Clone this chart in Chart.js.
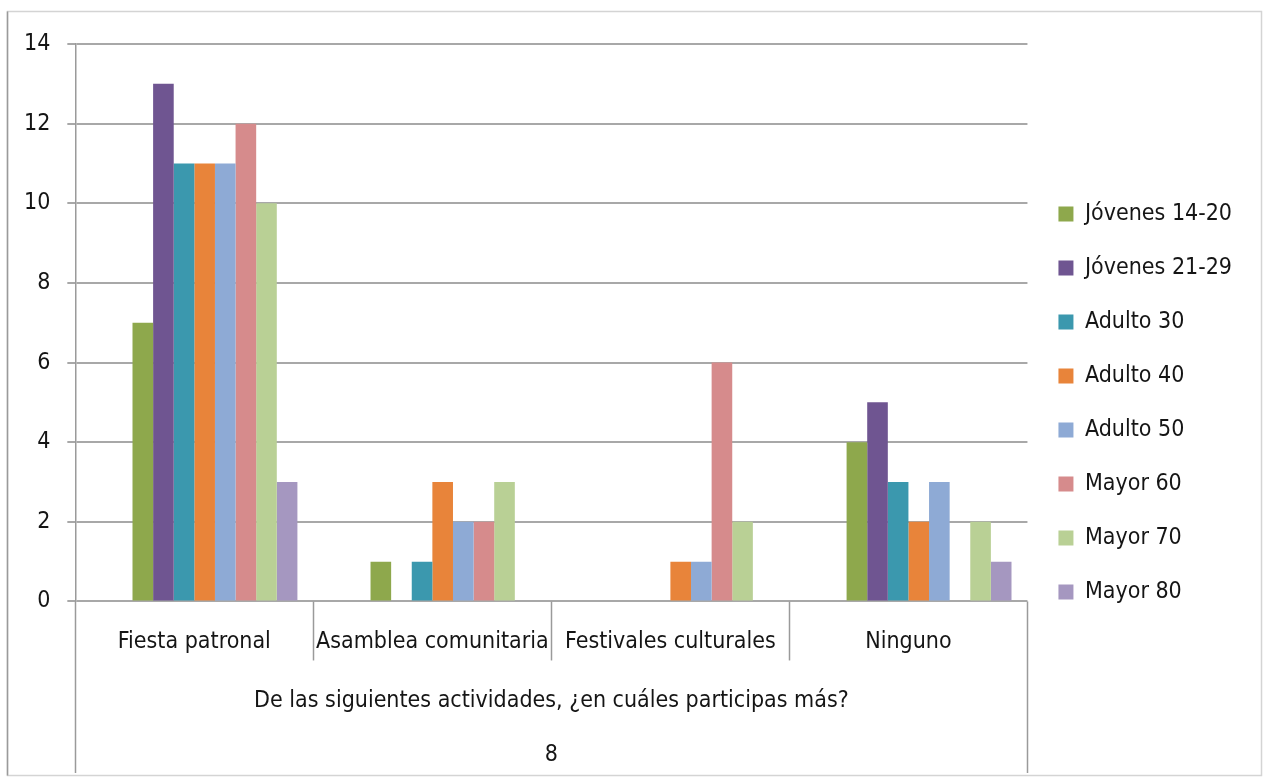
<!DOCTYPE html>
<html>
<head>
<meta charset="utf-8">
<script src="https://cdn.jsdelivr.net/npm/chart.js@4/dist/chart.umd.min.js"></script>
<style>
  html, body { margin: 0; padding: 0; background: #fff; }
  #chart { display: block; }
</style>
</head>
<body>
<canvas id="chart" width="1264" height="784"></canvas>
<script>
// categories and series
var categories = ['Fiesta patronal', 'Asamblea comunitaria', 'Festivales culturales', 'Ninguno'];
var seriesNames = ['Jóvenes 14-20', 'Jóvenes 21-29', 'Adulto 30', 'Adulto 40', 'Adulto 50', 'Mayor 60', 'Mayor 70', 'Mayor 80'];

var jovenes1420 = [7, 1, 0, 4];
var jovenes2129 = [13, 0, 0, 5];
var adulto30 = [11, 1, 0, 3];
var adulto40 = [11, 3, 1, 2];
var adulto50 = [11, 2, 1, 3];
var mayor60 = [12, 2, 6, 0];
var mayor70 = [10, 3, 2, 2];
var mayor80 = [3, 0, 0, 1];

var yTicks = [0, 2, 4, 6, 8, 10, 12, 14];
var axisTitle = ['De las siguientes actividades, ¿en cuáles participas más?', '8'];

var seriesValues = [jovenes1420, jovenes2129, adulto30, adulto40, adulto50, mayor60, mayor70, mayor80];
var colors = ['#8ea84c', '#6f5591', '#3b98ae', '#e8843a', '#8eaad5', '#d68b8c', '#b9d095', '#a597c0'];

var FONT = '"Liberation Sans Narrow", "DejaVu Sans Condensed", Lato, sans-serif';
var TEXT = '#151515';
var GRID = '#a8a8a8';

// the bars in the picture sit one bar to the right of the category centre,
// two empty slots in front push the group over
var datasets = [
  { label: '', data: categories.map(function () { return null; }) },
  { label: '', data: categories.map(function () { return null; }) }
];
for (var i = 0; i < seriesNames.length; i++) {
  datasets.push({
    label: seriesNames[i],
    data: seriesValues[i],
    backgroundColor: colors[i],
    borderWidth: 0
  });
}

// frame round the picture and the category separators below the axis
var framePlugin = {
  id: 'frame',
  beforeDraw: function (chart) {
    var c = chart.ctx;
    c.save();
    c.fillStyle = '#fff';
    c.fillRect(0, 0, chart.width, chart.height);
    c.strokeStyle = '#d4d4d4';
    c.lineWidth = 1.5;
    c.strokeRect(7.5, 11.5, chart.width - 10, chart.height - 20);
    c.strokeStyle = '#9a9a9a';
    c.beginPath();
    c.moveTo(7.5, 11.5);
    c.lineTo(7.5, chart.height - 8.5);
    c.stroke();
    c.restore();
  },
  afterDraw: function (chart) {
    var c = chart.ctx;
    var x = chart.scales.x;
    var a = chart.chartArea;
    var n = categories.length;
    var step = (x.right - x.left) / n;
    c.save();
    c.strokeStyle = '#9a9a9a';
    c.lineWidth = 1.5;
    for (var k = 0; k <= n; k++) {
      var px = Math.round(x.left + k * step) + 0.5;
      var bottom = (k === 0 || k === n) ? chart.height - 11 : a.bottom + 59;
      c.beginPath();
      c.moveTo(px, a.bottom);
      c.lineTo(px, bottom);
      c.stroke();
    }
    c.restore();
  }
};

new Chart(document.getElementById('chart'), {
  type: 'bar',
  data: {
    labels: categories,
    datasets: datasets
  },
  plugins: [framePlugin],
  options: {
    responsive: false,
    animation: false,
    layout: { padding: { top: 44, left: 7, right: 22, bottom: 22 } },
    datasets: {
      bar: { barPercentage: 1, categoryPercentage: 0.866 }
    },
    plugins: {
      tooltip: { enabled: false },
      legend: {
        position: 'right',
        labels: {
          filter: function (item) { return item.text !== ''; },
          boxWidth: 15,
          boxHeight: 15,
          padding: 31,
          color: TEXT,
          font: { family: FONT, size: 23 }
        }
      }
    },
    scales: {
      x: {
        grid: { display: false, drawTicks: false },
        border: { display: false },
        ticks: {
          color: TEXT,
          padding: 27,
          maxRotation: 0,
          autoSkip: false,
          font: { family: FONT, size: 23 }
        },
        title: {
          display: true,
          text: axisTitle,
          color: TEXT,
          padding: { top: -10, bottom: -21 },
          font: { family: FONT, size: 23, lineHeight: 2.39 }
        }
      },
      y: {
        min: 0,
        max: 14,
        afterBuildTicks: function (scale) {
          scale.ticks = yTicks.map(function (v) { return { value: v }; });
        },
        grid: { color: GRID, lineWidth: 2, tickLength: 8 },
        border: { display: true, color: '#9a9a9a', width: 1.5 },
        ticks: {
          color: TEXT,
          padding: 17,
          font: { family: FONT, size: 23 }
        }
      }
    }
  }
});
</script>
</body>
</html>
